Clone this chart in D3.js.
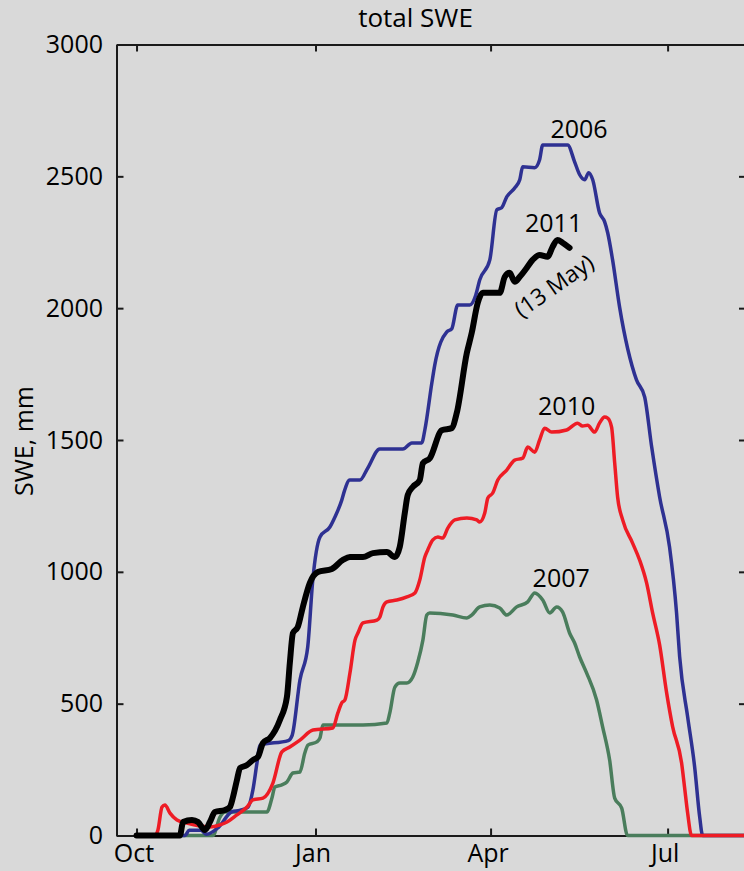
<!DOCTYPE html>
<html>
<head>
<meta charset="utf-8">
<script src="https://cdn.jsdelivr.net/npm/d3@7"></script>
<style>
  body { margin: 0; background: #d9d9d9; }
  svg { display: block; font-family: "Open Sans", "Noto Sans", sans-serif; }
</style>
</head>
<body>
<div id="chart"></div>
<script>
// Snow water equivalent, [days since 1 Oct, SWE mm]
var swe2006 = [[0,0],[25,0],[27,20],[33,20],[36,5],[42,30],[49,90],[53,95],[57.3,108],[59.8,172],[61.9,275],[63.4,343],
  [78,360],[80,380],[84,590],[88,715],[90.6,969],[94.3,1132],[99.4,1170],[102,1208],[105.5,1272],[107,1310],[109.6,1348],
  [114.8,1348],[118.9,1394],[125,1466],[136.9,1466],[141.5,1489],[146.6,1489],[148.2,1538],[151.8,1716],[153.3,1784],
  [159.5,1910],[162,1921],[165.1,2012],[171.3,2012],[174.4,2050],[176.4,2107],[181.6,2183],[185.2,2373],[187.7,2381],
  [190.3,2422],[194.4,2456],[197,2487],[198.5,2536],[204.7,2533],[207.2,2563],[208.8,2619],[221.6,2619],[225.2,2555],
  [227.8,2506],[230.4,2487],[232.4,2514],[234.5,2487],[238,2362],[240.6,2328],[242.2,2286],[244.7,2184],[248.3,2005],
  [257,1728],[261.2,1663],[264.8,1474],[268.9,1284],[274,1094],[277.6,844],[279.2,677],[283.3,450],[286.9,260],
  [289.5,70],[291,0],[313,0]];

var swe2007 = [[0,0],[39.3,0],[42.9,70],[45.5,89],[67,89],[69.6,142],[71.1,184],[74.7,192],[77.3,203],[80.4,237],[84,241],
  [86.5,313],[88.1,343],[92.7,355],[94.3,370],[95.8,419],[116.4,419],[128.7,427],[130.2,465],[132.8,563],[135.3,578],
  [138.9,578],[142,601],[144.6,658],[147.2,741],[149.2,836],[150.7,844],[162.6,836],[169.8,825],[172.3,836],[176.4,867],
  [181.6,874],[186.7,863],[190.3,836],[195.4,867],[201.1,886],[204.7,920],[208.8,893],[212.4,844],[216,867],[219,848],
  [222.6,768],[225.2,730],[227.8,677],[231.4,616],[236.5,514],[239.6,412],[243.2,286],[245.8,142],[249.4,104],
  [252.4,0],[313,0]];

var swe2010 = [[0,0],[9.5,0],[11,21],[13.1,108],[14.6,116],[17.2,85],[20.8,59],[25.9,47],[32.6,36],[37.7,32],[42.9,40],
  [46.5,51],[51.6,78],[56.8,108],[59.8,135],[65,142],[70.1,199],[74.7,317],[78.8,336],[84,362],[90.7,400],[100.9,408],
  [103.5,465],[105.5,503],[107.1,514],[109.7,616],[112.3,741],[113.8,768],[116.4,806],[123.6,817],[125.1,829],
  [126.7,867],[128.7,886],[133.8,893],[139,905],[143.1,920],[145.6,969],[148.2,1056],[149.7,1083],[152.3,1121],
  [154.9,1132],[157.4,1128],[160,1166],[163.6,1197],[169.8,1204],[174.9,1197],[176.4,1189],[179,1223],[180.6,1280],
  [183.1,1299],[185.7,1348],[190.3,1386],[194.4,1424],[198.5,1431],[201.1,1473],[204.7,1454],[207.2,1500],
  [209.8,1545],[213.4,1530],[221.1,1538],[226.7,1564],[229.3,1553],[231.9,1556],[235.5,1530],[238,1564],[240.6,1587],
  [242.2,1583],[244.2,1549],[245.8,1413],[247.3,1284],[249.9,1197],[255,1109],[258.6,1045],[262.2,958],[265.3,844],
  [268.9,723],[272.5,541],[275.6,412],[280.2,275],[281.7,184],[283.3,85],[285.3,0],[313,0]];

var swe2011 = [[0,0],[22.3,0],[23.9,51],[28.5,59],[31.6,51],[35.2,21],[37.7,51],[40.3,89],[45.5,97],[48,108],[49.6,146],
  [51.6,210],[53.2,256],[56.8,267],[59.8,286],[62.4,298],[65,351],[68.6,370],[73.7,438],[77.3,525],[78.8,654],[80.4,768],
  [82.9,791],[85.5,867],[89.1,958],[93.2,999],[100.4,1011],[106.1,1045],[109.7,1056],[116.4,1056],[121.5,1071],
  [128.7,1075],[132.8,1056],[135.3,1094],[137.9,1223],[139.4,1291],[142,1322],[145.6,1348],[147.2,1412],[150.8,1431],
  [156.9,1537],[162,1545],[164.6,1602],[169.8,1830],[172.3,1906],[175.4,2020],[178,2058],[186.7,2058],[189.3,2119],
  [191.8,2134],[194.4,2100],[197,2119],[200.6,2153],[203.6,2183],[207.2,2202],[211.3,2195],[213.9,2233],[216.4,2259],
  [219,2248],[222.6,2229]];

var yTicks = [0, 500, 1000, 1500, 2000, 2500, 3000];
var monthTicks = [0, 92, 182, 273];
var monthLabels = ['Oct', 'Jan', 'Apr', 'Jul'];

// Year labels, placed in data units
var yearLabels = [
  { text: '2006', day: 227.5, swe: 2645 },
  { text: '2011', day: 214.4, swe: 2289 },
  { text: '2010', day: 221.1, swe: 1595 },
  { text: '2007', day: 218.3, swe: 942 }
];

var series = [
  { data: swe2007, color: '#4a7d5c', width: 3.5 },
  { data: swe2006, color: '#2e3192', width: 3.5 },
  { data: swe2010, color: '#ee1c25', width: 3.5 },
  { data: swe2011, color: '#000000', width: 6 }
];

var width = 744, height = 871;
var plotLeft = 116.5, plotRight = 746, plotTop = 44.5, plotBottom = 835.5;

var svg = d3.select('#chart').append('svg')
  .attr('width', width)
  .attr('height', height);

svg.append('rect').attr('width', width).attr('height', height).attr('fill', '#d9d9d9');

var x = d3.scaleLinear().domain([-10.3, 313.3]).range([plotLeft, plotRight]);
var y = d3.scaleLinear().domain([0, 3000]).range([plotBottom, plotTop]);

// Axes (ticks point inward)
var gLeft = svg.append('g').attr('transform', 'translate(' + plotLeft + ',0)')
  .call(d3.axisLeft(y).tickValues(yTicks).tickSize(-7).tickSizeOuter(0).tickPadding(13.5).tickFormat(d3.format('d')));
var gRight = svg.append('g').attr('transform', 'translate(' + plotRight + ',0)')
  .call(d3.axisRight(y).tickValues(yTicks).tickSize(-7).tickSizeOuter(0).tickFormat(''));
var gBottom = svg.append('g').attr('transform', 'translate(0,' + plotBottom + ')')
  .call(d3.axisBottom(x).tickValues(monthTicks).tickSize(-7).tickSizeOuter(0).tickPadding(9)
    .tickFormat(function(d, i) { return monthLabels[i]; }));
var gTop = svg.append('g').attr('transform', 'translate(0,' + plotTop + ')')
  .call(d3.axisTop(x).tickValues(monthTicks).tickSize(-7).tickSizeOuter(0).tickFormat(''));

[gLeft, gRight, gBottom, gTop].forEach(function(g) {
  g.select('.domain').attr('stroke', '#1a1a1a').attr('stroke-width', 2);
  g.selectAll('.tick line').attr('stroke', '#1a1a1a').attr('stroke-width', 2);
  g.selectAll('.tick text').attr('fill', '#000').style('font-size', '25px')
    .style('font-family', '"Open Sans", "Noto Sans", sans-serif');
});
gBottom.selectAll('.tick text').attr('dx', -3);

// Lines
var line = d3.line()
  .x(function(d) { return x(d[0]); })
  .y(function(d) { return y(d[1]); })
  .curve(d3.curveMonotoneX);

svg.selectAll('path.swe')
  .data(series)
  .enter()
  .append('path')
  .attr('class', 'swe')
  .attr('d', function(s) { return line(s.data); })
  .attr('fill', 'none')
  .attr('stroke', function(s) { return s.color; })
  .attr('stroke-width', function(s) { return s.width; })
  .attr('stroke-linejoin', 'round')
  .attr('stroke-linecap', 'round');

// Labels
svg.selectAll('text.year')
  .data(yearLabels)
  .enter()
  .append('text')
  .attr('class', 'year')
  .attr('x', function(d) { return x(d.day); })
  .attr('y', function(d) { return y(d.swe); })
  .attr('text-anchor', 'middle')
  .style('font-size', '25px')
  .text(function(d) { return d.text; });

svg.append('text')
  .attr('transform', 'translate(' + x(214.6) + ',' + y(2085) + ') rotate(-35)')
  .attr('text-anchor', 'middle')
  .attr('dy', '0.35em')
  .style('font-size', '23px')
  .text('(13 May)');

svg.append('text')
  .attr('x', 415.5)
  .attr('y', 27)
  .attr('text-anchor', 'middle')
  .style('font-size', '26px')
  .text('total SWE');

svg.append('text')
  .attr('transform', 'translate(33,441) rotate(-90)')
  .attr('text-anchor', 'middle')
  .style('font-size', '25px')
  .text('SWE, mm');
</script>
</body>
</html>
